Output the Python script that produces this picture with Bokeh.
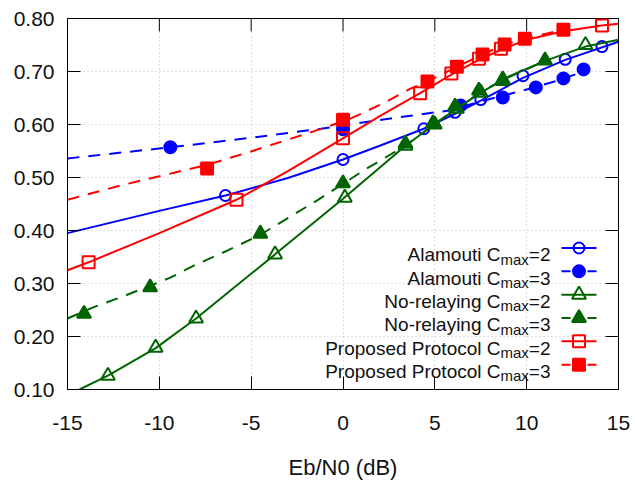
from bokeh.plotting import figure
from bokeh.models import Range1d, FixedTicker, NumeralTickFormatter
from bokeh.core.properties import value
from bokeh.embed import file_html
from bokeh.resources import INLINE

# ---------------- data ----------------
x_ticks = [-15, -10, -5, 0, 5, 10, 15]
y_ticks = [0.10, 0.20, 0.30, 0.40, 0.50, 0.60, 0.70, 0.80]
x_label = "Eb/N0 (dB)"

# Alamouti Cmax=2 (open circles, solid curve)
alam2_x = [-6.4, 0.0, 4.4, 6.1, 7.5, 9.8, 12.1, 14.1]
alam2_y = [0.466, 0.534, 0.592, 0.623, 0.647, 0.692, 0.723, 0.747]
alam2_cx = [-15, -10, -6.4, -3, 0, 2, 4.4, 6.1, 7.5, 9.8, 12.1, 15]
alam2_cy = [0.395, 0.437, 0.466, 0.499, 0.534, 0.560, 0.592, 0.620, 0.645, 0.688, 0.722, 0.756]

# Alamouti Cmax=3 (filled circles, dashed curve)
alam3_x = [-9.4, 0.0, 6.4, 8.7, 10.5, 12.0, 13.1]
alam3_y = [0.557, 0.591, 0.636, 0.651, 0.670, 0.687, 0.704]
alam3_cx = [-15, -9.4, -5, -1.2, 2.9, 5.7, 8, 10.1, 11.7, 13.1]
alam3_cy = [0.536, 0.557, 0.575, 0.592, 0.613, 0.626, 0.648, 0.667, 0.683, 0.700]

# No-relaying Cmax=2 (open triangles, solid curve)
nr2_x = [-12.8, -10.2, -8.0, -3.7, 0.1, 3.4, 5.0, 6.2, 7.5, 8.7, 13.2]
nr2_y = [0.126, 0.179, 0.234, 0.355, 0.462, 0.560, 0.600, 0.630, 0.660, 0.682, 0.750]
nr2_cx = [-14.35, -12.8, -10.2, -8.0, -3.7, 0.0, 3.4, 5.0, 6.2, 7.5, 9.0, 11.0, 13.2, 15]
nr2_cy = [0.100, 0.126, 0.178, 0.234, 0.355, 0.460, 0.560, 0.601, 0.630, 0.660, 0.690, 0.720, 0.747, 0.760]

# No-relaying Cmax=3 (filled triangles, dashed curve)
nr3_x = [-14.1, -10.5, -4.5, 0.0, 3.4, 4.9, 6.1, 7.4, 8.7, 11.0]
nr3_y = [0.243, 0.293, 0.394, 0.489, 0.564, 0.602, 0.634, 0.664, 0.685, 0.721]
nr3_cx = [-15, -13.6, -12.1, -9.4, -8.1, -6.3, -4.5, -1.4, 1.3, 3.4, 5.0, 6.2, 7.5, 8.7, 11.0]
nr3_cy = [0.234, 0.255, 0.274, 0.311, 0.334, 0.362, 0.392, 0.457, 0.517, 0.560, 0.601, 0.631, 0.661, 0.684, 0.720]

# Proposed Protocol Cmax=2 (open squares, solid curve)
pp2_x = [-13.85, -5.8, 0.0, 4.2, 5.9, 7.4, 8.6, 14.1]
pp2_y = [0.340, 0.458, 0.574, 0.659, 0.696, 0.724, 0.743, 0.787]
pp2_cx = [-15, -13.85, -10, -5.8, -3, 0, 2, 4.2, 5.9, 7.4, 8.6, 10, 12, 14.1, 15]
pp2_cy = [0.325, 0.340, 0.395, 0.458, 0.512, 0.574, 0.616, 0.659, 0.694, 0.722, 0.741, 0.760, 0.776, 0.787, 0.790]

# Proposed Protocol Cmax=3 (filled squares, dashed curve)
pp3_x = [-7.4, 0.0, 4.6, 6.2, 7.6, 8.8, 9.9, 12.0]
pp3_y = [0.517, 0.609, 0.681, 0.709, 0.732, 0.751, 0.762, 0.779]
pp3_cx = [-15, -12.1, -9.2, -7.4, -5.2, -1.6, 0.4, 2.2, 3.7, 4.6, 6.2, 7.6, 8.8, 9.9, 12.0]
pp3_cy = [0.458, 0.485, 0.509, 0.524, 0.547, 0.587, 0.611, 0.640, 0.668, 0.681, 0.709, 0.732, 0.751, 0.762, 0.779]

legend_prefix = ["Alamouti C", "Alamouti C", "No-relaying C", "No-relaying C",
                 "Proposed Protocol C", "Proposed Protocol C"]
legend_sub = "max"
legend_suffix = ["=2", "=3", "=2", "=3", "=2", "=3"]

# ---------------- styling ----------------
BLUE, GREEN, RED = "#0000ff", "#006400", "#ff0000"
FONT = "Liberation Sans"
DASH = "12 9"
LW = 2

series = [
    (alam2_x, alam2_y, alam2_cx, alam2_cy, BLUE, "circle", False, False, 11),
    (alam3_x, alam3_y, alam3_cx, alam3_cy, BLUE, "circle", True, True, 12),
    (nr2_x, nr2_y, nr2_cx, nr2_cy, GREEN, "triangle", False, False, 14),
    (nr3_x, nr3_y, nr3_cx, nr3_cy, GREEN, "triangle", True, True, 14),
    (pp2_x, pp2_y, pp2_cx, pp2_cy, RED, "square", False, False, 12),
    (pp3_x, pp3_y, pp3_cx, pp3_cy, RED, "square", True, True, 12),
]

FW, FH = 551, 371
BL, BR, BT, BB = 67, 12, 18, 97
p = figure(width=BL + FW + BR, height=BT + FH + BB, output_backend="svg", toolbar_location=None,
           x_range=Range1d(-15, 15), y_range=Range1d(0.1, 0.8),
           min_border_left=BL, min_border_right=BR, min_border_top=BT, min_border_bottom=BB)
p.background_fill_color = "white"
p.border_fill_color = "white"
p.outline_line_color = "black"
p.outline_line_width = 1

xt = FixedTicker(ticks=x_ticks)
yt = FixedTicker(ticks=y_ticks)
p.xaxis.ticker = xt
p.yaxis.ticker = yt
p.xaxis.formatter = NumeralTickFormatter(format="0")
p.yaxis.formatter = NumeralTickFormatter(format="0.00")

for ax in (p.xaxis[0], p.yaxis[0]):
    ax.major_tick_in = 13
    ax.major_tick_out = 0
    ax.minor_tick_line_color = None
    ax.axis_line_color = "black"
    ax.major_tick_line_color = "black"
    ax.major_label_text_font = FONT
    ax.major_label_text_font_size = "21px"
    ax.major_label_text_color = "#111111"
p.xaxis.major_label_standoff = 26
p.yaxis.major_label_standoff = 13
p.xaxis.axis_label = x_label
p.xaxis.axis_label_text_font = FONT
p.xaxis.axis_label_text_font_size = "22px"
p.xaxis.axis_label_text_font_style = "normal"
p.xaxis.axis_label_text_color = "#111111"
p.xaxis.axis_label_standoff = 22

for g in (p.xgrid[0], p.ygrid[0]):
    g.grid_line_color = "#bbbbbb"
    g.grid_line_dash = "1 3"
    g.grid_line_width = 1
p.xgrid.ticker = xt
p.ygrid.ticker = yt

# frame pixel space for mirror ticks and the key
p.extra_x_ranges["px"] = Range1d(0, FW)
p.extra_y_ranges["px"] = Range1d(0, FH)

# mirror ticks on top and right
TICK = 13
p.segment(x0=x_ticks, y0=[FH] * len(x_ticks), x1=x_ticks, y1=[FH - TICK] * len(x_ticks),
          line_color="black", line_width=1, y_range_name="px")
p.segment(x0=[FW] * len(y_ticks), y0=y_ticks, x1=[FW - TICK] * len(y_ticks), y1=y_ticks,
          line_color="black", line_width=1, x_range_name="px")

# curves and points
for (sx, sy, cx, cy, col, mk, filled, dashed, sz) in series:
    p.line(cx, cy, line_color=col, line_width=LW, line_dash=DASH if dashed else "solid")
    p.scatter(sx, sy, marker=mk, size=sz, line_color=col, line_width=LW,
              fill_color=col if filled else None)

# ---------------- legend (drawn in frame pixel space) ----------------
MAIN_FS, SUB_FS = 19, 15
ROW0, STEP = 141.5, 23.33
TEXT_RIGHT = 483.0
w_eq = 1.14 * MAIN_FS
w_max = 1.889 * SUB_FS
LX0, LX1, MX = 494.0, 529.0, 511.5

rows_y = [ROW0 - i * STEP for i in range(len(legend_prefix))]
base_y = [r - 0.358 * MAIN_FS for r in rows_y]
sub_y = [b - 4.5 for b in base_y]

common = dict(x_range_name="px", y_range_name="px", text_font=value(FONT),
              text_baseline="alphabetic", text_color="#111111")
p.text(x=[TEXT_RIGHT] * 6, y=base_y, text=legend_suffix, text_align="right",
       text_font_size=f"{MAIN_FS}px", **common)
p.text(x=[TEXT_RIGHT - w_eq] * 6, y=sub_y, text=[legend_sub] * 6, text_align="right",
       text_font_size=f"{SUB_FS}px", **common)
p.text(x=[TEXT_RIGHT - w_eq - w_max] * 6, y=base_y, text=legend_prefix, text_align="right",
       text_font_size=f"{MAIN_FS}px", **common)

for i, (sx, sy, cx, cy, col, mk, filled, dashed, sz) in enumerate(series):
    yy = rows_y[i]
    if dashed:
        p.segment(x0=[LX0, MX + 8.5], y0=[yy, yy], x1=[MX - 8.5, LX1], y1=[yy, yy],
                  line_color=col, line_width=LW, x_range_name="px", y_range_name="px")
    else:
        p.segment(x0=[LX0], y0=[yy], x1=[LX1], y1=[yy], line_color=col, line_width=LW,
                  x_range_name="px", y_range_name="px")
    p.scatter([MX], [yy], marker=mk, size=sz, line_color=col, line_width=LW,
              fill_color=col if filled else None, x_range_name="px", y_range_name="px")

open("out.html", "w").write(file_html(p, INLINE))
